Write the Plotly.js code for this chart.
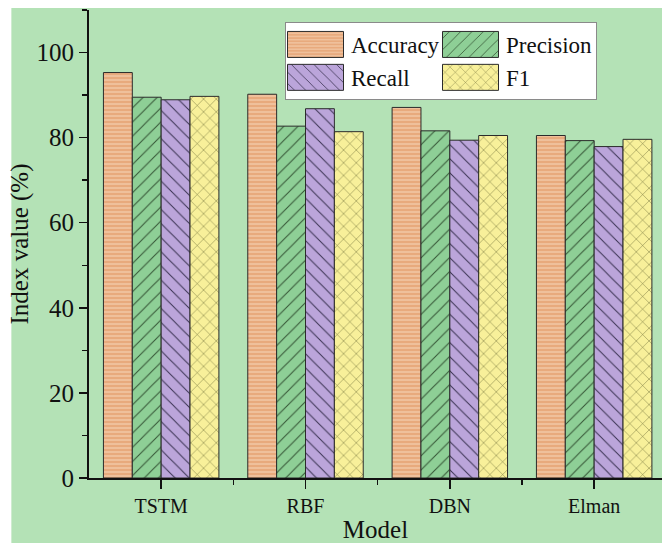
<!DOCTYPE html>
<html>
<head>
<meta charset="utf-8">
<script src="https://cdn.plot.ly/plotly-3.0.1.min.js"></script>
<style>html,body{margin:0;padding:0;background:#fff;}#chart{width:662px;height:543px;}</style>
</head>
<body>
<div id="chart"></div>
<script>
var categories = ["TSTM", "RBF", "DBN", "Elman"];
var accuracy  = [95.3, 90.2, 87.1, 80.5];
var precision = [89.5, 82.7, 81.6, 79.3];
var recall    = [88.9, 86.8, 79.4, 77.9];
var f1        = [89.7, 81.4, 80.5, 79.6];
var yTicks = [0, 20, 40, 60, 80, 100];

var xIdx = categories.map(function (c, i) { return i; });
var serif = "Liberation Serif";

function barTrace(name, vals, bg, fg, shape, size, sol) {
  return {
    type: "bar", name: name, x: xIdx, y: vals,
    marker: {
      color: bg,
      line: {color: "#2b2b2b", width: 1},
      pattern: {shape: shape, bgcolor: bg, fgcolor: fg, size: size, solidity: sol, fillmode: "replace"}
    },
    hoverinfo: "skip"
  };
}

var data = [
  barTrace("Accuracy", accuracy, "#E8AA7D", "#F5CFB0", "-", 4, 0.3),
  barTrace("Precision", precision, "#8ECF96", "#355535", "/", 10, 0.1),
  barTrace("Recall", recall, "#BBA5DA", "#3a3352", "\\", 10, 0.1),
  barTrace("F1", f1, "#F8F09A", "#6b6b35", "x", 9, 0.1)
];

var green = "#B4E2B6";
var layout = {
  width: 662, height: 543,
  margin: {l: 89, r: 0, t: 10, b: 65},
  paper_bgcolor: green, plot_bgcolor: green,
  barmode: "group", bargap: 0.2, bargroupgap: 0,
  font: {family: serif, color: "#111"},
  showlegend: true,
  legend: {
    orientation: "h", x: 0.342, xanchor: "left", y: 0.968, yanchor: "top",
    bgcolor: "#ffffff", bordercolor: "#8a8a8a", borderwidth: 1,
    font: {family: serif, size: 23, color: "#111"},
    entrywidth: 85, entrywidthmode: "pixels", itemwidth: 55,
    traceorder: "normal", tracegroupgap: 0
  },
  xaxis: {
    range: [-0.5, 3.47], tickmode: "array", tickvals: xIdx, ticktext: categories,
    ticks: "outside", ticklen: 9, tickwidth: 1.5, tickcolor: "#111",
    showline: true, linecolor: "#111", linewidth: 2, showgrid: false, zeroline: false,
    tickfont: {family: serif, size: 20, color: "#111"},
    minor: {tickvals: [0.5, 1.5, 2.5], ticks: "outside", ticklen: 5, tickwidth: 1.5, tickcolor: "#111", showgrid: false},
    title: {text: "Model", font: {family: serif, size: 25, color: "#111"}, standoff: 34},
    fixedrange: true
  },
  yaxis: {
    range: [0, 110], tickmode: "array", tickvals: yTicks,
    ticks: "outside", ticklen: 8, tickwidth: 1.5, tickcolor: "#111",
    showline: true, linecolor: "#111", linewidth: 2, showgrid: false, zeroline: false,
    tickfont: {family: serif, size: 25, color: "#111"},
    minor: {dtick: 10, tick0: 0, ticks: "outside", ticklen: 5, tickwidth: 1.5, tickcolor: "#111", showgrid: false},
    title: {text: "Index value (%)", font: {family: serif, size: 25, color: "#111"}, standoff: 1},
    fixedrange: true
  },
  shapes: [
    {type: "rect", xref: "paper", yref: "paper", x0: -0.2, x1: -0.1355, y0: -0.2, y1: 1.2, fillcolor: "#ffffff", line: {width: 0}, layer: "above"},
    {type: "rect", xref: "paper", yref: "paper", x0: -0.2, x1: 1.2, y0: 1.0043, y1: 1.2, fillcolor: "#ffffff", line: {width: 0}, layer: "above"}
  ]
};

Plotly.newPlot("chart", data, layout, {staticPlot: true}).then(function (gd) {
  var pts = gd.querySelectorAll(".legend .legendpoints path");
  pts.forEach(function (p) {
    p.setAttribute("d", "M28,13H-28V-13H28Z");
    p.setAttribute("transform", "translate(29.5,0)");
  });
  var leg = gd.querySelector(".legend");
  if (leg) leg.setAttribute("transform", "translate(285,22)");
});
</script>
</body>
</html>
